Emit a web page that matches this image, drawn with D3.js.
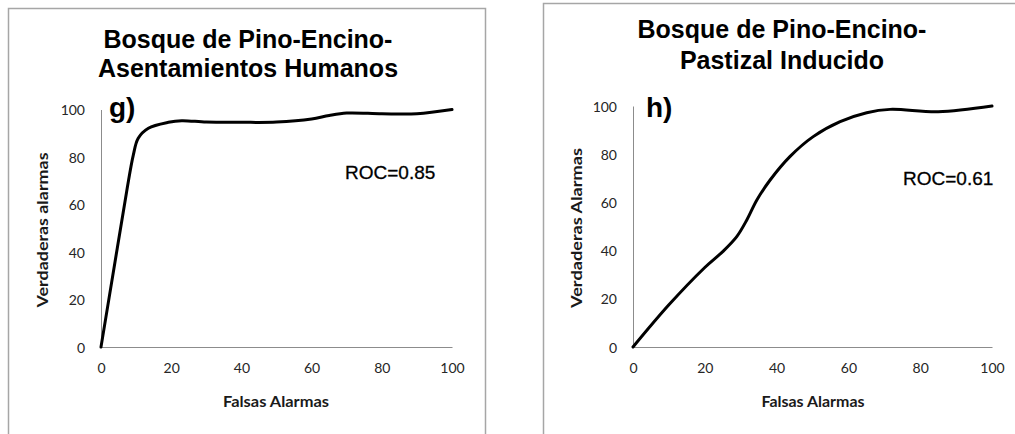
<!DOCTYPE html>
<html>
<head>
<meta charset="utf-8">
<script src="https://cdn.jsdelivr.net/npm/d3@7"></script>
<style>
  html, body { margin: 0; padding: 0; background: #fff; }
  svg { display: block; }
</style>
</head>
<body>
<svg id="chart" width="1015" height="434"></svg>
<script>
// ---- Data ----
const gFalsas = [0, 4, 7.3, 9.2, 10.6, 13.5, 19.2, 23, 30, 40, 50, 60, 65, 70, 80, 90, 100];
const gVerdaderas = [0, 35.9, 65.4, 80.8, 87.9, 92.1, 94.6, 95.3, 94.7, 94.6, 94.7, 96, 97.5, 98.5, 98.2, 98.2, 100];
const hFalsas = [0, 10, 20, 25, 28.9, 31.7, 34.5, 38.2, 43.7, 50.2, 57.7, 65.1, 71.6, 85, 100];
const hVerdaderas = [0, 17.5, 33, 39.6, 45.8, 52.7, 61, 69.3, 79, 87.3, 93.5, 97.2, 98.6, 97.6, 100];
const tickValues = [0, 20, 40, 60, 80, 100];
const tickLabels = ["0", "20", "40", "60", "80", "100"];
const titlesG = ["Bosque de Pino-Encino-", "Asentamientos Humanos"];
const titlesH = ["Bosque de Pino-Encino-", "Pastizal Inducido"];
const letters = ["g)", "h)"];
const rocLabels = ["ROC=0.85", "ROC=0.61"];
const xTitles = ["Falsas Alarmas", "Falsas Alarmas"];
const yTitles = ["Verdaderas alarmas", "Verdaderas Alarmas"];

const panels = [
  {
    xs: gFalsas, ys: gVerdaderas, title: titlesG, letter: letters[0], roc: rocLabels[0],
    xTitle: xTitles[0], yTitle: yTitles[0],
    frame: { x: 8.5, y: 8.5, w: 477, h: 440 },
    plot: { x0: 101, x1: 452, y0: 347, y1: 109.5 },
    titleX: 248, titleY: [48, 77],
    letterX: 109, letterY: 117,
    rocX: 345, rocY: 179,
    xTitleX: 276, xTitleY: 407, xTitleLen: 106,
    yTitleX: 48, yTitleY: 230, yTitleLen: 155,
    tickLabelRight: 85
  },
  {
    xs: hFalsas, ys: hVerdaderas, title: titlesH, letter: letters[1], roc: rocLabels[1],
    xTitle: xTitles[1], yTitle: yTitles[1],
    frame: { x: 543.5, y: 3.5, w: 480, h: 445 },
    plot: { x0: 633, x1: 992, y0: 347, y1: 106 },
    titleX: 782, titleY: [38, 69],
    letterX: 646, letterY: 117,
    rocX: 903, rocY: 185,
    xTitleX: 813, xTitleY: 407, xTitleLen: 103,
    yTitleX: 582, yTitleY: 228, yTitleLen: 160,
    tickLabelRight: 617
  }
];

const svg = d3.select("#chart");

panels.forEach(p => {
  const g = svg.append("g");

  // outer frame
  g.append("rect")
    .attr("x", p.frame.x).attr("y", p.frame.y)
    .attr("width", p.frame.w).attr("height", p.frame.h)
    .attr("fill", "#fff")
    .attr("stroke", "#a6a6a6").attr("stroke-width", 1.5);

  const x = d3.scaleLinear().domain([0, 100]).range([p.plot.x0, p.plot.x1]);
  const y = d3.scaleLinear().domain([0, 100]).range([p.plot.y0, p.plot.y1]);

  // x axis
  const xAxis = d3.axisBottom(x).tickValues(tickValues)
    .tickFormat((d, i) => tickLabels[i]).tickSize(0).tickPadding(0);
  const xg = g.append("g").attr("transform", `translate(0,${p.plot.y0})`).call(xAxis);
  xg.select(".domain").attr("stroke", "#8c8c8c").attr("stroke-width", 1);
  xg.selectAll("text")
    .attr("y", 26).attr("dy", null)
    .attr("font-family", "Lato, 'Open Sans', sans-serif")
    .attr("font-size", 14).attr("fill", "#262626");

  // y axis
  const yAxis = d3.axisLeft(y).tickValues(tickValues)
    .tickFormat((d, i) => tickLabels[i]).tickSize(0).tickPadding(0);
  const yg = g.append("g").attr("transform", `translate(${p.plot.x0},0)`).call(yAxis);
  yg.select(".domain").attr("stroke", "#8c8c8c").attr("stroke-width", 1);
  yg.selectAll("text")
    .attr("x", p.tickLabelRight - p.plot.x0)
    .attr("dy", "0.36em")
    .attr("font-family", "Lato, 'Open Sans', sans-serif")
    .attr("font-size", 14).attr("fill", "#262626");

  // curve
  const pts = p.xs.map((v, i) => [v, p.ys[i]]);
  const line = d3.line()
    .x(d => x(d[0])).y(d => y(d[1]))
    .curve(d3.curveCatmullRom.alpha(0.5));
  g.append("path")
    .datum(pts)
    .attr("d", line)
    .attr("fill", "none")
    .attr("stroke", "#000")
    .attr("stroke-width", 3)
    .attr("stroke-linejoin", "round")
    .attr("stroke-linecap", "round");

  // title
  p.title.forEach((t, i) => {
    g.append("text")
      .attr("x", p.titleX).attr("y", p.titleY[i])
      .attr("text-anchor", "middle")
      .attr("font-family", "'Liberation Sans', Arial, sans-serif")
      .attr("font-weight", "bold").attr("font-size", 25)
      .attr("fill", "#000")
      .text(t);
  });

  // panel letter
  g.append("text")
    .attr("x", p.letterX).attr("y", p.letterY)
    .attr("font-family", "'Liberation Sans', Arial, sans-serif")
    .attr("font-weight", "bold").attr("font-size", 28)
    .attr("fill", "#000")
    .text(p.letter);

  // ROC label
  g.append("text")
    .attr("x", p.rocX).attr("y", p.rocY)
    .attr("font-family", "'Liberation Sans', Arial, sans-serif")
    .attr("font-size", 19)
    .attr("fill", "#000")
    .attr("stroke", "#000").attr("stroke-width", 0.3)
    .text(p.roc);

  // x title
  g.append("text")
    .attr("x", p.xTitleX).attr("y", p.xTitleY)
    .attr("text-anchor", "middle")
    .attr("font-family", "Lato, 'Open Sans', sans-serif")
    .attr("font-weight", "bold").attr("font-size", 15)
    .attr("textLength", p.xTitleLen).attr("lengthAdjust", "spacingAndGlyphs")
    .attr("fill", "#1a1a1a")
    .text(p.xTitle);

  // y title
  g.append("text")
    .attr("transform", `translate(${p.yTitleX},${p.yTitleY}) rotate(-90)`)
    .attr("text-anchor", "middle")
    .attr("font-family", "Lato, 'Open Sans', sans-serif")
    .attr("font-weight", "bold").attr("font-size", 15)
    .attr("textLength", p.yTitleLen).attr("lengthAdjust", "spacingAndGlyphs")
    .attr("fill", "#1a1a1a")
    .text(p.yTitle);
});
</script>
</body>
</html>
